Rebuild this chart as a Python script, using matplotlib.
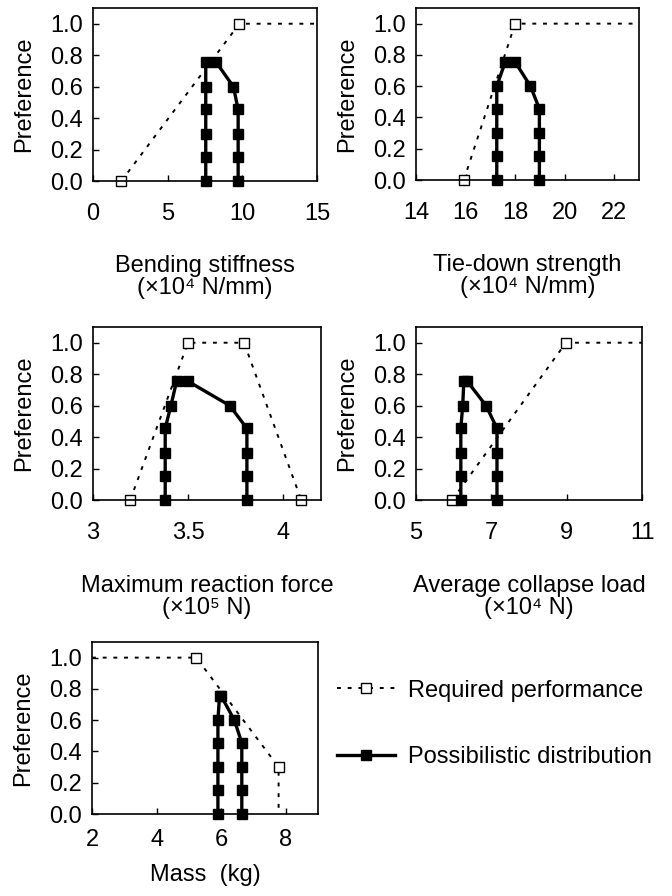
import matplotlib
matplotlib.use('Agg')
import matplotlib.pyplot as plt
from matplotlib.lines import Line2D

plt.rcParams['font.family'] = ['Liberation Sans', 'DejaVu Sans']
plt.rcParams['font.size'] = 17

# preference levels (alpha cuts) of the possibilistic distribution
levels_up = [0.0, 0.155, 0.30, 0.455, 0.60, 0.755]
levels_down = [0.755, 0.60, 0.455, 0.30, 0.155, 0.0]

# bending stiffness (x10^4 N/mm)
bend_req_x = [1.9, 9.8, 15.0]
bend_req_y = [0.0, 1.0, 1.0]
bend_pos_x = [7.55, 7.55, 7.55, 7.55, 7.55, 7.55, 8.25, 9.4, 9.72, 9.72, 9.72, 9.72]

# tie-down strength (x10^4 N/mm)
tie_req_x = [15.93, 18.0, 23.0]
tie_req_y = [0.0, 1.0, 1.0]
tie_pos_x = [17.26, 17.26, 17.26, 17.26, 17.26, 17.6, 18.0, 18.62, 18.98, 18.98, 18.98, 18.98]

# maximum reaction force (x10^5 N)
force_req_x = [3.196, 3.5, 3.795, 4.096]
force_req_y = [0.0, 1.0, 1.0, 0.0]
force_pos_x = [3.38, 3.38, 3.38, 3.38, 3.41, 3.44, 3.5, 3.72, 3.81, 3.81, 3.81, 3.81]

# average collapse load (x10^4 N)
load_req_x = [5.96, 8.98, 11.0]
load_req_y = [0.0, 1.0, 1.0]
load_pos_x = [6.19, 6.19, 6.19, 6.19, 6.24, 6.27, 6.36, 6.86, 7.15, 7.15, 7.15, 7.15]

# mass (kg)
mass_req_x = [2.0, 5.23, 7.78, 7.78]
mass_req_y = [1.0, 1.0, 0.30, 0.0]
mass_pos_x = [5.9, 5.9, 5.9, 5.9, 5.9, 5.95, 6.0, 6.41, 6.64, 6.64, 6.64, 6.64]

req_style = dict(color='black', linestyle=(0, (2, 3.5)), linewidth=1.4,
                 marker='s', markersize=6.5, markerfacecolor='white',
                 markeredgecolor='black', markeredgewidth=1.0, clip_on=False)
pos_style = dict(color='black', linestyle='-', linewidth=2.4,
                 marker='s', markersize=7, markerfacecolor='black',
                 markeredgecolor='black', clip_on=False)

W, H = 672, 896


def make_axes(fig, left, right, top, bottom):
    # pixel box -> figure fraction
    return fig.add_axes([left / W, 1 - bottom / H, (right - left) / W, (bottom - top) / H])


def draw_panel(ax, req_x, req_y, req_marks, pos_x, xlim, xticks, xticklabels,
               xlabel, xpad, labelpad):
    ax.plot(req_x, req_y, markevery=req_marks, **req_style)
    ax.plot(pos_x, levels_up + levels_down, **pos_style)
    ax.set_xlim(*xlim)
    ax.set_ylim(0, 1.1)
    ax.set_xticks(xticks)
    ax.set_xticklabels(xticklabels)
    ax.set_yticks([0.0, 0.2, 0.4, 0.6, 0.8, 1.0])
    ax.set_yticklabels(['0.0', '0.2', '0.4', '0.6', '0.8', '1.0'])
    ax.tick_params(direction='in', length=4, width=1.0, labelsize=17)
    ax.tick_params(axis='x', pad=xpad)
    ax.tick_params(axis='y', pad=7)
    for sp in ax.spines.values():
        sp.set_linewidth(1.2)
    ax.set_ylabel('Preference', fontsize=17, labelpad=11)
    ax.set_xlabel(xlabel, fontsize=17, labelpad=labelpad, linespacing=1.0)


fig = plt.figure(figsize=(6.72, 8.96), dpi=100)

ax1 = make_axes(fig, 93, 317, 8, 181)
draw_panel(ax1, bend_req_x, bend_req_y, [0, 1], bend_pos_x, (0, 15),
           [0, 5, 10, 15], ['0', '5', '10', '15'],
           'Bending stiffness\n(×10\u2074 N/mm)', 15.5, 22)

ax2 = make_axes(fig, 416, 639, 8, 180)
draw_panel(ax2, tie_req_x, tie_req_y, [0, 1], tie_pos_x, (14, 23),
           [14, 16, 18, 20, 22], ['14', '16', '18', '20', '22'],
           'Tie-down strength\n(×10\u2074 N/mm)', 15.5, 22)

ax3 = make_axes(fig, 93, 321, 327, 500)
draw_panel(ax3, force_req_x, force_req_y, [0, 1, 2, 3], force_pos_x, (3, 4.2),
           [3, 3.5, 4], ['3', '3.5', '4'],
           'Maximum reaction force\n(×10\u2075 N)', 16, 22)

ax4 = make_axes(fig, 416, 642, 327, 500)
draw_panel(ax4, load_req_x, load_req_y, [0, 1], load_pos_x, (5, 11),
           [5, 7, 9, 11], ['5', '7', '9', '11'],
           'Average collapse load\n(×10\u2074 N)', 16, 22)

ax5 = make_axes(fig, 92, 318, 642, 814)
draw_panel(ax5, mass_req_x, mass_req_y, [1, 2], mass_pos_x, (2, 9),
           [2, 4, 6, 8], ['2', '4', '6', '8'],
           'Mass  (kg)', 10.5, 10)

handles = [
    Line2D([], [], **{k: v for k, v in req_style.items() if k != 'clip_on'}),
    Line2D([], [], **{k: v for k, v in pos_style.items() if k != 'clip_on'}),
]
fig.legend(handles, ['Required performance', 'Possibilistic distribution'],
           loc='center left', bbox_to_anchor=(337 / W, 1 - 724 / H),
           frameon=False, fontsize=17, handlelength=2.45, handletextpad=0.55,
           labelspacing=1.9, borderpad=0, borderaxespad=0)

fig.savefig('out.png', dpi=100)
